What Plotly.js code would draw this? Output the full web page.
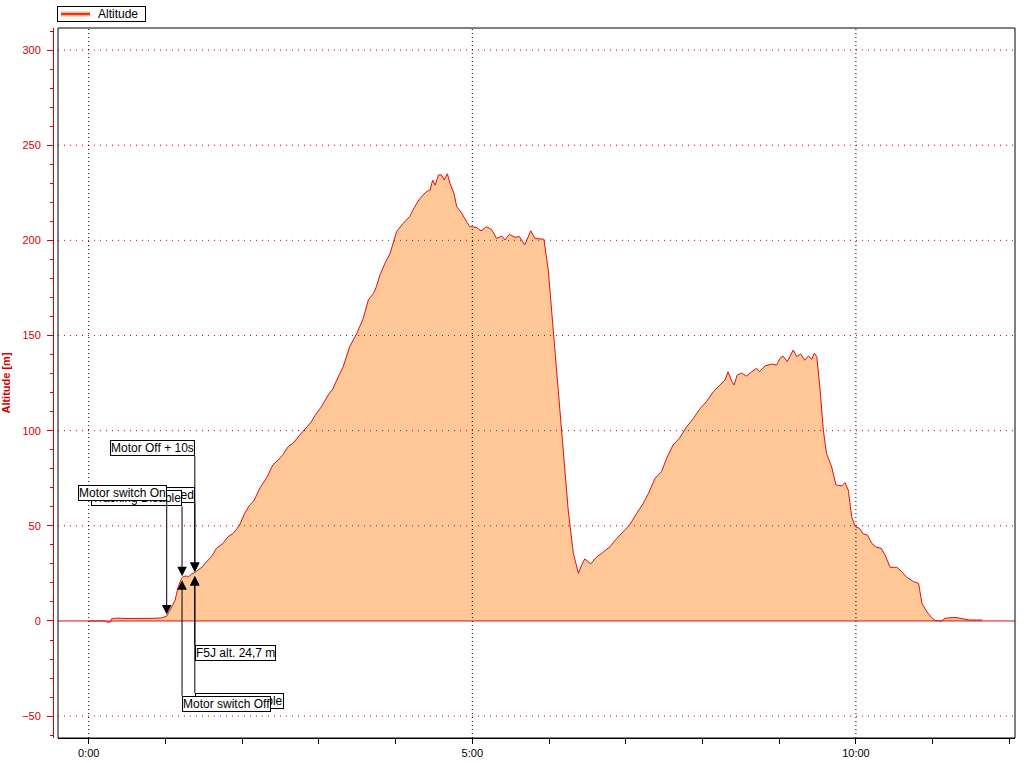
<!DOCTYPE html>
<html><head><meta charset="utf-8">
<script src="https://cdn.plot.ly/plotly-3.0.1.min.js"></script>
<style>html,body{margin:0;padding:0;background:#fff;} #chart{width:1032px;height:763px;}</style>
</head><body><div id="chart"></div>
<script>
// ---- data (time in seconds, altitude in metres) ----
const timeSec = [0,5,13,14,17,18,22,30,40,50,57,60,61,63,65,67.6,70,72.7,74,76.6,78,80.5,83,85,87,89,91,93,96,100,103,105,109,113,116,118,122,126,129,134,139,144,148,152,156,160,165,170.5,174,177,182,187.4,191,194,199,204,209.6,214.7,218.7,222.6,225,227.8,231.7,235.6,238,240.8,246,251,255,259,264,267,269,271,273.5,276,278,280.5,282.5,285.7,287.8,291.7,295.6,298,303,306.8,311,315,319,323,325.6,329,333.4,336.8,341,345.7,349,354,356,359.4,362,364.7,367,370,372.5,375,379,383,385.5,388,392.6,397,402,407.6,413,418,423,428.6,433.7,437.7,443,448,452,457,462,467.6,473,478,483,488.5,493.7,497.6,500,503,504.7,507.2,510.6,514.6,518.5,522.4,524.5,529,534,538,540.6,543,546.3,551,553.7,556.8,560,562.8,565.5,567.5,569.4,572,574.5,577,581,584.4,589,591.5,594,596.7,599.4,602.7,605.8,609,612.4,616,619.7,622.8,626.7,632,635.8,639.7,645,649,651.6,655.4,659,662,667,669.7,677.5,684,689,694,699];
const altitude = [0,0,0,-0.6,-0.6,1.2,1.5,1.3,1.2,1.4,1.6,2.0,2.5,5,8,11,18,22.4,23.4,23.6,23.2,24.7,25.5,26.5,27.7,28.5,30.3,31.5,33.8,38.2,39.5,40.8,44.3,46,48.5,50.4,56.6,61,63,70,75,82,84.5,87.5,91.6,93.5,97.7,102,104.5,108,112.6,118.8,122,126.6,133.6,144,151,159,168.7,172,175.7,181.8,188,193,198.5,204.6,209,212.5,217.7,222,225.6,226.5,231.7,229,234.4,234.4,231.7,235,230,224.7,217.7,214.3,209.8,207.2,206.9,205,207.2,205.8,201,202.3,200.2,203.2,201.6,202,197.6,205,201,200.9,200.6,184.4,163.4,144,123,102,79.3,58.3,35.6,25,29.4,32.6,30,33.5,36,39,43.4,47,50.4,56.6,61.8,67,75,78.5,85.5,92.5,96,102,106.5,111.5,115.2,120.5,124,126.6,131,125.8,124,129.3,130.2,128.7,131,132.8,131,134,135,134.5,138,139.2,136.3,142.4,138.9,140.3,137,139.2,137.5,140.7,138.9,121.4,100.4,88,81,71.5,71,72.7,68.8,54.8,49.6,48.7,45.7,45.2,40.8,38.7,38.2,34.7,28.2,28.2,25.9,23,20.7,19.8,9.3,4.9,1.9,0.2,0,1.4,1.9,1.2,0.5,0.5,0.5];

const seriesName = 'Altitude';
const xTickVals = [0, 300, 600];
const xTickText = ['0:00', '5:00', '10:00'];
const yGridVals = [-50, 50, 100, 150, 200, 250, 300];

// flight events
const eventLabels = ['Motor Off + 10s', 'Tracking Enabled', 'Tracking Disable', 'Motor switch On', 'Tracking Enable', 'Motor switch Off', 'F5J alt. 24,7 m'];
const eventTimes  = [83, 83, 73, 61, 83, 73, 83];
const eventAlts   = [24.7, 24.7, 22.4, 2.3, 24.7, 22.4, 24.7];

// ---- styling / placement ----
const RED = '#d40000';
const LINE_RED = '#dc1010';
const FILL = '#ffc896';
const FONT = 'Liberation Sans, Arial, sans-serif';
const M = {l: 53, r: 17, t: 28, b: 25};
const plotW = 1032 - M.l - M.r;
const plotH = 763 - M.t - M.b;
const px2x = px => (px - M.l) / plotW;          // page px -> paper x
const py2y = py => 1 - (py - M.t) / plotH;      // page px -> paper y

// per-event label placement: box above (arrow down) or below (arrow up), pixel offset of box corner
const eventPlacement = [
  {side: 'above', ay: -118},
  {side: 'above', ay: -71},
  {side: 'above', ay: -72},
  {side: 'above', ay: -116},
  {side: 'below', ay: 119},
  {side: 'below', ay: 117.5},
  {side: 'below', ay: 71}
];

const trace = {
  x: timeSec, y: altitude, name: seriesName, type: 'scatter', mode: 'lines',
  fill: 'tozeroy', fillcolor: FILL,
  line: {color: LINE_RED, width: 1}, showlegend: false
};

const shapes = [];
yGridVals.forEach(v => shapes.push({type: 'line', xref: 'x domain', x0: 0, x1: 1, yref: 'y', y0: v, y1: v,
  line: {color: RED, width: 1, dash: '1px,5px'}, layer: 'above'}));
xTickVals.forEach(v => shapes.push({type: 'line', xref: 'x', x0: v, x1: v, yref: 'y domain', y0: 0, y1: 1,
  line: {color: '#000', width: 1, dash: '1px,3px'}, layer: 'above'}));
shapes.push({type: 'line', xref: 'x domain', x0: 0, x1: 1, yref: 'y', y0: 0, y1: 0, line: {color: LINE_RED, width: 1}, layer: 'above'});
shapes.push({type: 'rect', xref: 'x domain', x0: 0, x1: 1, yref: 'y domain', y0: 0, y1: 1, line: {color: '#000', width: 1}, layer: 'above'});

const annotations = eventLabels.map((txt, i) => {
  const p = eventPlacement[i];
  const above = p.side === 'above';
  return {
    x: eventTimes[i], y: eventAlts[i], xref: 'x', yref: 'y',
    text: txt, showarrow: true, ax: 0, ay: p.ay,
    xanchor: above ? 'right' : 'left', yanchor: above ? 'bottom' : 'top',
    arrowhead: 2, arrowsize: 1.9, arrowwidth: 1, arrowcolor: '#000', standoff: 2,
    bgcolor: '#fff', bordercolor: '#000', borderwidth: 1, borderpad: 0,
    font: {family: FONT, size: 12, color: '#000'}
  };
});

// legend box (series name) drawn as a bordered label with a line swatch
annotations.push({
  xref: 'paper', yref: 'paper', x: px2x(57), y: py2y(6), xanchor: 'left', yanchor: 'top',
  text: '\u00a0'.repeat(12) + seriesName + '\u00a0\u00a0', showarrow: false,
  bgcolor: 'rgba(0,0,0,0)', bordercolor: '#000', borderwidth: 1, borderpad: 0,
  font: {family: FONT, size: 12, color: '#000'}
});
const legendShapes = [
  {type: 'line', xref: 'paper', yref: 'paper', x0: px2x(61), x1: px2x(90), y0: py2y(14), y1: py2y(14),
   line: {color: '#ffb07a', width: 5}, layer: 'above'},
  {type: 'line', xref: 'paper', yref: 'paper', x0: px2x(61), x1: px2x(90), y0: py2y(14), y1: py2y(14),
   line: {color: LINE_RED, width: 1.5}, layer: 'above'}
];

const layout = {
  width: 1032, height: 763,
  margin: {l: M.l, r: M.r, t: M.t, b: M.b, pad: 0, autoexpand: false},
  paper_bgcolor: '#fff', plot_bgcolor: '#fff',
  font: {family: FONT, size: 11, color: '#000'},
  showlegend: false,
  xaxis: {
    domain: [5 / plotW, 1], range: [-24, 724.4],
    tickmode: 'array', tickvals: xTickVals, ticktext: xTickText,
    ticks: 'outside', ticklen: 5, tickcolor: '#000', tickwidth: 1,
    minor: {tickmode: 'linear', tick0: 0, dtick: 60, ticks: 'outside', ticklen: 5, tickcolor: '#000', showgrid: false},
    showline: true, linecolor: '#000', linewidth: 1,
    showgrid: false, zeroline: false,
    tickfont: {family: FONT, size: 11, color: '#000'}
  },
  yaxis: {
    anchor: 'free', position: 0, range: [-61.5, 311.6],
    tickmode: 'linear', tick0: 0, dtick: 50,
    ticks: 'outside', ticklen: 6, tickcolor: RED, tickwidth: 1,
    minor: {tickmode: 'linear', tick0: 0, dtick: 10, ticks: 'outside', ticklen: 3, tickcolor: RED, showgrid: false},
    showline: true, linecolor: RED, linewidth: 1,
    showgrid: false, zeroline: false, ticklabelstandoff: 4,
    tickfont: {family: FONT, size: 11, color: RED},
    title: {text: 'Altitude [m]', standoff: 8, font: {family: FONT, size: 11, color: RED, weight: 'bold'}}
  },
  shapes: shapes.concat(legendShapes),
  annotations: annotations
};

Plotly.newPlot('chart', [trace], layout, {staticPlot: true, displayModeBar: false});
</script>
</body></html>
